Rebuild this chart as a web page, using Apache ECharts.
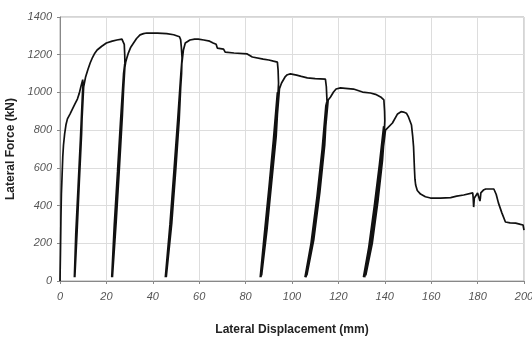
<!DOCTYPE html>
<html>
<head>
<meta charset="utf-8">
<script src="https://cdn.jsdelivr.net/npm/echarts@6/dist/echarts.min.js"></script>
<style>
  html, body { margin: 0; padding: 0; background: #fff; }
  #chart { width: 532px; height: 350px; }
</style>
</head>
<body>
<div id="chart"></div>
<script>
// [displacement mm, force kN], in loading order
const firstLoading = [
  [0, 0], [0.2, 150], [0.4, 330], [0.6, 460], [0.9, 560], [1.2, 660], [1.5, 720],
  [2.0, 780], [2.6, 830], [3.2, 860], [4.3, 885], [5.5, 915], [6.5, 940],
  [7.5, 965], [8.3, 995], [9.0, 1030], [9.8, 1068]
];
const loop1 = [
  [9.9, 1040], [9.1, 750], [8.1, 500], [7.1, 250], [6.2, 20], [6.0, 10],
  [6.8, 250], [7.8, 500], [8.8, 750], [9.7, 1000], [10.0, 1050], [9.3, 780],
  [8.3, 520], [7.4, 270], [6.4, 20], [6.3, 10], [7.1, 260], [8.1, 510],
  [9.1, 760], [10.2, 1030]
];
const envelope1 = [
  [11, 1080], [12, 1120], [13, 1156], [14, 1185], [15, 1208], [16, 1225],
  [18, 1245], [20, 1262], [22.5, 1272], [24.5, 1278], [26.7, 1283], [27.3, 1280],
  [27.7, 1255], [27.9, 1200], [28, 1140]
];
const loop2 = [
  [27.8, 1100], [26.6, 850], [25.3, 580], [23.9, 300], [22.3, 20], [22.0, 10],
  [23.4, 300], [24.8, 580], [26.1, 850], [27.4, 1100], [27.9, 1150], [26.9, 880],
  [25.6, 600], [24.2, 310], [22.6, 20], [22.4, 10], [23.8, 310], [25.2, 600],
  [26.5, 880], [27.8, 1120], [28.3, 1160]
];
const envelope2 = [
  [28.8, 1182], [29.5, 1210], [30.5, 1240], [31.7, 1262], [33, 1286], [34.5, 1305],
  [36, 1312], [37.4, 1315], [42, 1315], [46, 1312], [49, 1306], [51.5, 1295],
  [52, 1280], [52.3, 1240], [52.6, 1185]
];
const loop3 = [
  [52.4, 1100], [51.1, 850], [49.6, 580], [47.9, 300], [45.4, 20], [45.1, 10],
  [47.4, 300], [49.1, 580], [50.7, 850], [52.1, 1100], [52.6, 1180], [51.4, 860],
  [49.9, 590], [48.2, 310], [45.8, 20], [45.5, 10], [47.8, 310], [49.5, 590],
  [51.1, 860], [52.5, 1150]
];
const envelope3 = [
  [53.2, 1225], [54, 1262], [56, 1278], [58, 1283], [59.6, 1283], [62, 1278],
  [64.5, 1272], [66, 1262], [67.3, 1255], [67.8, 1235], [70.5, 1230], [71.2, 1214],
  [75, 1209], [80.7, 1204], [81.5, 1195], [82.9, 1188], [87.6, 1177], [90, 1172],
  [92, 1166], [93.7, 1161], [94, 1120], [94.2, 1050]
];
const loop4 = [
  [94, 1000], [92.4, 750], [90.5, 500], [88.5, 250], [86.3, 20], [86, 10],
  [88.1, 250], [90.1, 500], [92, 750], [93.7, 1000], [94.1, 1010], [92.7, 760],
  [90.8, 510], [88.8, 260], [86.6, 20], [86.4, 10], [88.5, 250], [90.6, 500],
  [92.6, 750], [94.2, 990], [93.2, 770], [91.2, 520], [89.2, 270], [86.9, 30],
  [86.7, 20], [88.8, 260], [90.9, 510], [92.9, 760], [94.6, 1020]
];
const envelope4 = [
  [95.5, 1050], [97, 1082], [98, 1094], [99.3, 1098], [102, 1092], [104, 1085],
  [106.6, 1077], [110, 1073], [114.4, 1071], [114.8, 1030], [115.1, 950]
];
const loop5 = [
  [114.9, 900], [113.4, 700], [111.2, 450], [108.6, 200], [105.6, 20], [105.3, 10],
  [108.2, 200], [110.8, 450], [113, 700], [114.6, 930], [115, 950], [113.7, 710],
  [111.6, 460], [109, 210], [106, 20], [105.7, 10], [108.6, 210], [111.2, 460],
  [113.4, 710], [115, 920], [114.1, 720], [112, 470], [109.4, 220], [106.4, 30],
  [106.1, 20], [109, 220], [111.6, 470], [113.8, 720], [115.6, 960]
];
const envelope5 = [
  [116.6, 976], [117.9, 1002], [119, 1018], [120.9, 1024], [123, 1022], [126.5, 1018],
  [130.4, 1002], [133.8, 997], [136, 990], [138.2, 976], [139.6, 960], [139.9, 900],
  [140, 850]
];
const loop6 = [
  [139.8, 800], [138.2, 620], [136, 400], [133.6, 180], [130.8, 20], [130.5, 10],
  [133.1, 180], [135.5, 400], [137.7, 620], [139.5, 820], [139.9, 820], [138.6, 630],
  [136.5, 410], [134.1, 190], [131.3, 20], [131, 10], [133.6, 190], [136, 410],
  [138.2, 630], [139.9, 790], [139, 640], [137, 420], [134.6, 200], [131.8, 30],
  [131.5, 20], [134.1, 200], [136.5, 420], [138.7, 640], [140.3, 800]
];
const finalBranch = [
  [141, 800], [143.3, 838], [145.5, 886], [147, 898], [148.1, 896], [149.3, 890],
  [150.2, 870], [151.5, 827], [152, 770], [152.4, 711], [152.8, 589], [153, 540],
  [153.3, 509], [154, 480], [155.4, 461], [157.5, 447], [159.7, 440], [164, 440],
  [168.4, 442], [171, 450], [174, 456], [177.9, 467], [178.1, 440], [178.3, 392],
  [178.6, 440], [178.8, 450], [180, 467], [180.8, 465], [181, 424], [181.2, 440],
  [181.4, 467], [182.5, 482], [183.5, 488], [187, 488], [188, 460], [189, 413],
  [190.5, 360], [192, 313], [194, 308], [196.4, 307], [198.5, 300], [199.6, 297],
  [200, 270]
];

const xTicks = [0, 20, 40, 60, 80, 100, 120, 140, 160, 180, 200];
const yTicks = [0, 200, 400, 600, 800, 1000, 1200, 1400];

const curve = [].concat(
  firstLoading, loop1, envelope1, loop2, envelope2, loop3, envelope3,
  loop4, envelope4, loop5, envelope5, loop6, finalBranch
);

const chart = echarts.init(document.getElementById('chart'));

const tickLabel = {
  color: '#555',
  fontStyle: 'italic',
  fontFamily: 'Liberation Sans',
  fontSize: 11,
  formatter: (v) => String(v),
};
const titleStyle = {
  color: '#222',
  fontWeight: 'bold',
  fontFamily: 'Liberation Sans',
  fontSize: 12,
};

chart.setOption({
  animation: false,
  backgroundColor: '#fff',
  grid: {
    left: 60, right: 8, top: 17, bottom: 69,
    outerBoundsMode: 'none',
    show: true, borderColor: '#aaa', borderWidth: 1,
  },
  xAxis: {
    type: 'value',
    min: xTicks[0],
    max: xTicks[xTicks.length - 1],
    interval: 20,
    name: 'Lateral Displacement (mm)',
    nameLocation: 'middle',
    nameGap: 43,
    nameTextStyle: titleStyle,
    axisLine: { lineStyle: { color: '#888' } },
    axisTick: { show: true, length: 3, lineStyle: { color: '#888' } },
    axisLabel: { ...tickLabel, margin: 10 },
    splitLine: { lineStyle: { color: '#ddd' } },
  },
  yAxis: {
    type: 'value',
    min: yTicks[0],
    max: yTicks[yTicks.length - 1],
    interval: 200,
    name: 'Lateral Force (kN)',
    nameLocation: 'middle',
    nameGap: 38,
    nameTextStyle: titleStyle,
    axisLine: { show: true, lineStyle: { color: '#888' } },
    axisTick: { show: true, length: 3, lineStyle: { color: '#888' } },
    axisLabel: { ...tickLabel, margin: 8 },
    splitLine: { lineStyle: { color: '#ddd' } },
  },
  series: [{
    type: 'line',
    data: curve,
    showSymbol: false,
    lineStyle: { color: '#111', width: 1.7 },
  }],
});
</script>
</body>
</html>
